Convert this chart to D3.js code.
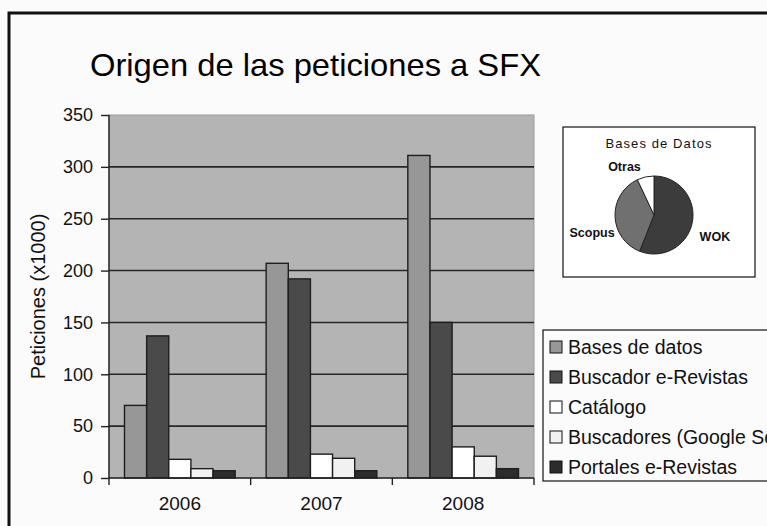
<!DOCTYPE html>
<html>
<head>
<meta charset="utf-8">
<script src="https://cdn.jsdelivr.net/npm/d3@7"></script>
<style>
  html, body { margin: 0; padding: 0; background: #fbfbfb; overflow: hidden; }
  svg { display: block; font-family: "Liberation Sans", Arial, sans-serif; }
</style>
</head>
<body>
<svg id="chart" width="767" height="526"></svg>
<script>
// ---- data ----
const titleText = "Origen de las peticiones a SFX";
const yAxisTitle = "Peticiones (x1000)";
const categories = ["2006", "2007", "2008"];
const seriesNames = ["Bases de datos", "Buscador e-Revistas", "Catálogo", "Buscadores (Google Scholar)", "Portales e-Revistas"];
const basesDatos = [70, 207, 311];
const buscadorRevistas = [137, 192, 150];
const catalogo = [18, 23, 30];
const buscadoresGoogle = [9, 19, 21];
const portalesRevistas = [7, 7, 9];
const seriesValues = [basesDatos, buscadorRevistas, catalogo, buscadoresGoogle, portalesRevistas];
const seriesColors = ["#979797", "#4a4a4a", "#ffffff", "#f1f1f1", "#2c2c2c"];
const yTicks = [0, 50, 100, 150, 200, 250, 300, 350];

const pieTitle = "Bases de Datos";
const pieLabels = ["WOK", "Scopus", "Otras"];
const pieValues = [56, 37, 7];
const pieColors = ["#3c3c3c", "#707070", "#ffffff"];

// ---- drawing ----
const svg = d3.select("#chart");

// outer frame
svg.append("rect").attr("x", 9).attr("y", 13).attr("width", 800).attr("height", 600)
  .attr("fill", "#fbfbfb").attr("stroke", "#111").attr("stroke-width", 3);

// title
svg.append("text").attr("x", 90).attr("y", 76)
  .attr("font-size", 32).attr("fill", "#000")
  .attr("textLength", 451).attr("lengthAdjust", "spacingAndGlyphs")
  .text(titleText);

const plot = { left: 109, right: 534, top: 115, bottom: 478 };

const y = d3.scaleLinear().domain([0, 350]).range([plot.bottom, plot.top]);
const x0 = d3.scaleBand().domain(categories).range([plot.left, plot.right]).paddingInner(0).paddingOuter(0);
const x1 = d3.scaleBand().domain(seriesNames).range([0, x0.bandwidth()]).paddingInner(0).paddingOuter(0.7);

// plot background
svg.append("rect").attr("x", plot.left).attr("y", plot.top)
  .attr("width", plot.right - plot.left).attr("height", plot.bottom - plot.top)
  .attr("fill", "#b4b4b4").attr("stroke", "#9a9a9a").attr("stroke-width", 1);

// gridlines
svg.append("g").selectAll("line").data(yTicks.filter(d => d > 0 && d < 350)).join("line")
  .attr("x1", plot.left).attr("x2", plot.right)
  .attr("y1", d => y(d)).attr("y2", d => y(d))
  .attr("stroke", "#262626").attr("stroke-width", 1.6);

// bars
const groups = svg.append("g").selectAll("g").data(categories).join("g")
  .attr("transform", d => `translate(${x0(d)},0)`);
groups.selectAll("rect")
  .data((c, i) => seriesNames.map((s, k) => ({ s, k, v: seriesValues[k][i] })))
  .join("rect")
  .attr("x", d => x1(d.s))
  .attr("width", x1.bandwidth())
  .attr("y", d => y(d.v))
  .attr("height", d => y(0) - y(d.v))
  .attr("fill", d => seriesColors[d.k])
  .attr("stroke", "#1e1e1e").attr("stroke-width", 1.4);

// y axis
const yAxis = d3.axisLeft(y).tickValues(yTicks).tickSize(8).tickPadding(8);
const gy = svg.append("g").attr("transform", `translate(${plot.left},0)`).call(yAxis);
gy.select(".domain").attr("stroke", "#222").attr("stroke-width", 1.4).attr("d", `M0,${plot.top}V${plot.bottom}`);
gy.selectAll(".tick line").attr("stroke", "#222").attr("stroke-width", 1.4);
gy.selectAll(".tick text").attr("font-size", 18).attr("fill", "#111")
  .attr("font-family", "'Liberation Sans', Arial, sans-serif");

// x axis
const xAxis = d3.axisBottom(x0).tickSize(0).tickPadding(19);
const gx = svg.append("g").attr("transform", `translate(0,${plot.bottom})`).call(xAxis);
gx.select(".domain").attr("stroke", "#222").attr("stroke-width", 1.4).attr("d", `M${plot.left},0H${plot.right}`);
gx.selectAll(".tick text").attr("font-size", 19).attr("fill", "#111")
  .attr("font-family", "'Liberation Sans', Arial, sans-serif");
// category separator ticks
const sepPositions = categories.map(c => x0(c)).concat([x0(categories[categories.length - 1]) + x0.bandwidth()]);
gx.append("g").selectAll("line").data(sepPositions).join("line")
  .attr("x1", d => d).attr("x2", d => d).attr("y1", 0).attr("y2", 7)
  .attr("stroke", "#222").attr("stroke-width", 1.4);

// y axis title
svg.append("text")
  .attr("transform", `translate(45,${(plot.top + plot.bottom) / 2}) rotate(-90)`)
  .attr("text-anchor", "middle").attr("font-size", 20).attr("fill", "#111")
  .text(yAxisTitle);

// legend
const legend = { x: 543, y: 330, w: 300, h: 151 };
svg.append("rect").attr("x", legend.x).attr("y", legend.y).attr("width", legend.w).attr("height", legend.h)
  .attr("fill", "#fbfbfb").attr("stroke", "#111").attr("stroke-width", 1.2);
const legendRow = d3.scaleBand().domain(seriesNames).range([legend.y + 2, legend.y + 152]);
const lg = svg.append("g").selectAll("g").data(seriesNames).join("g")
  .attr("transform", d => `translate(${legend.x}, ${legendRow(d) + legendRow.bandwidth() / 2})`);
lg.append("rect").attr("x", 7).attr("y", -6).attr("width", 12).attr("height", 12)
  .attr("fill", (d, i) => seriesColors[i]).attr("stroke", "#111").attr("stroke-width", 1);
lg.append("text").attr("x", 25).attr("dy", "0.35em").attr("font-size", 19.5).attr("fill", "#111")
  .text(d => d);

// pie inset
const pieBox = { x: 563, y: 127, w: 192, h: 150 };
svg.append("rect").attr("x", pieBox.x).attr("y", pieBox.y).attr("width", pieBox.w).attr("height", pieBox.h)
  .attr("fill", "#ffffff").attr("stroke", "#111").attr("stroke-width", 1.2);
svg.append("text").attr("x", pieBox.x + pieBox.w / 2).attr("y", pieBox.y + 21)
  .attr("text-anchor", "middle").attr("font-size", 13).attr("letter-spacing", 1.1).attr("fill", "#111")
  .text(pieTitle);
const pcx = pieBox.x + 91, pcy = pieBox.y + 88, pr = 39;
const pie = d3.pie().sort(null).value(d => d);
const arcs = pie(pieValues);
const arc = d3.arc().innerRadius(0).outerRadius(pr);
const pg = svg.append("g").attr("transform", `translate(${pcx},${pcy})`);
pg.selectAll("path").data(arcs).join("path")
  .attr("d", arc).attr("fill", (d, i) => pieColors[i])
  .attr("stroke", "#222").attr("stroke-width", 1);
const labelArc = d3.arc().innerRadius(62).outerRadius(62);
const labelNudge = [[0, 10], [0, 16], [-16, 12]];
pg.selectAll("text").data(arcs).join("text")
  .attr("transform", (d, i) => {
    const c = labelArc.centroid(d);
    return `translate(${c[0] + labelNudge[i][0]},${c[1] + labelNudge[i][1]})`;
  })
  .attr("text-anchor", "middle").attr("dy", "0.35em")
  .attr("font-size", 12.5).attr("font-weight", "bold").attr("fill", "#111")
  .text((d, i) => pieLabels[i]);
</script>
</body>
</html>
